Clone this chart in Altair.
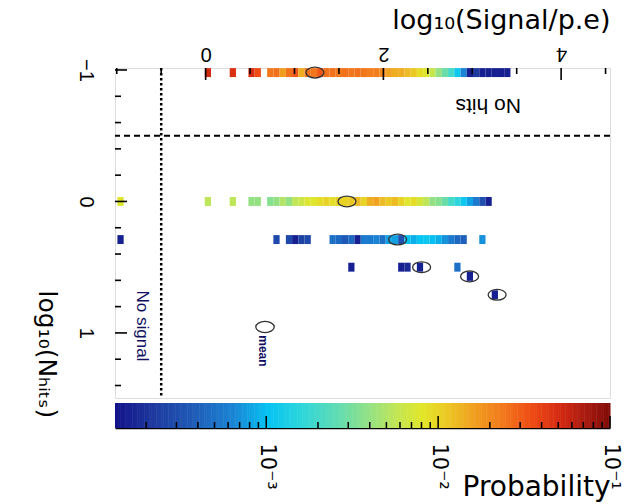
import altair as alt
import pandas as pd

# ---------------- values ----------------
X_DOMAIN = [-1.02, 4.55]          # log10(Signal/p.e)
Y_DOMAIN = [-1.015, 1.495]        # log10(N_hits)

BIN_START = -0.01                 # lower edge of signal bin 0
BIN_WIDTH = 0.0702                # signal bin width
ROW_HALF = 0.034                  # half height of a row of cells

# y position of each row (the "no hits" row sits at -1)
ROW_Y = [-0.98, 0.0, 0.29, 0.50, 0.57, 0.71]

# signal-bin indices of the filled cells in each row
ROW_BINS = [
    [0, 4, 7, 8] + list(range(10, 49)),
    [-14, 0, 4, 7, 8] + list(range(10, 46)),
    [-14, 11, 13, 14, 15, 16] + list(range(20, 42)) + [44],
    [23, 31, 32, 34, 40],
    [42],
    [46],
]
# log10(probability) of those cells
ROW_LOGP = [
    [-1.28, -1.32, -1.30, -1.45,
     -1.62, -1.60, -1.78, -1.60, -1.50, -1.85, -1.60, -1.62, -1.50, -1.60,
     -1.60, -1.62, -1.60, -1.62, -1.60, -1.62, -1.65, -1.65, -1.68,
     -1.80, -1.85, -1.85, -1.90, -1.95, -2.05, -2.10, -2.22, -2.40, -2.55,
     -2.70, -2.95, -3.20, -3.80, -3.65, -3.80, -3.80, -3.80, -3.80, -3.80],
    [-2.10, -2.25, -2.25, -2.40, -2.40,
     -2.45, -2.40, -2.30, -2.40, -2.25, -2.20, -2.12, -2.10, -2.05, -2.00,
     -2.05, -2.00, -2.00, -1.95, -1.90, -2.00, -1.85, -1.80, -1.90, -1.95,
     -1.90, -2.00, -2.10, -2.05, -2.15, -2.25, -2.40, -2.45, -2.55, -2.70,
     -2.80, -2.95, -3.10, -3.25, -3.50, -3.80],
    [-3.80, -3.55, -3.55, -3.80, -3.60, -3.55,
     -3.30, -3.35, -3.45, -3.35, -3.80, -3.25, -3.25, -3.20, -3.30, -3.10,
     -3.10, -3.50, -3.00, -3.05, -2.98, -2.95, -3.00, -3.05, -3.15, -3.25,
     -3.35, -3.40,
     -3.15],
    [-3.80, -3.80, -3.75, -3.80, -3.30],
    [-3.80],
    [-3.80],
]
# mean signal of each row
MEAN_SIGNAL = [1.23, 1.59, 2.16, 2.43, 2.97, 3.28]

NO_SIGNAL_X = -0.5
NO_HITS_Y = -0.5

X_MAJOR = [0, 2, 4]
X_MINOR = [-1, -0.5, 0.5, 1, 1.5, 2.5, 3, 3.5, 4.5]
Y_MAJOR = [-1, 0, 1]
Y_MINOR = [-0.8, -0.6, -0.4, -0.2, 0.2, 0.4, 0.6, 0.8, 1.2, 1.4]

# colour bar (log10 probability stops and colours)
CBAR_LOGP = [-3.88, -3.65, -3.42, -3.19, -2.99, -2.79, -2.58, -2.38, -2.24,
             -2.09, -1.95, -1.81, -1.63, -1.46, -1.29, -1.14, -1.0]
CBAR_COLORS = ["#12128a", "#1e3a9f", "#1f5cb8", "#1a85d4", "#05c3f3",
               "#2ed6da", "#62dcb0", "#9ae27e", "#c2e655", "#e2e628",
               "#ecc824", "#f0a420", "#f27a1c", "#ef4c14", "#d42a12",
               "#a81a10", "#800c08"]
CBAR_MAJOR = [1e-3, 1e-2, 1e-1]
CBAR_MINOR = [2e-4, 3e-4, 4e-4, 5e-4, 6e-4, 7e-4, 8e-4, 9e-4,
              2e-3, 3e-3, 4e-3, 5e-3, 6e-3, 7e-3, 8e-3, 9e-3,
              2e-2, 3e-2, 4e-2, 5e-2, 6e-2, 7e-2, 8e-2, 9e-2]
CBAR_LABELS = ["10⁻³", "10⁻²", "10⁻¹"]

# annotation positions (data coordinates)
NO_HITS_POS = (3.18, -0.73)
NO_SIGNAL_POS = (-0.716, 0.947)
MEAN_KEY_POS = (0.668, 0.955)
MEAN_TXT_POS = (0.645, 1.137)

# ---------------- tables ----------------
cell_rows = []
for yv, bins, lps in zip(ROW_Y, ROW_BINS, ROW_LOGP):
    for b, lp in zip(bins, lps):
        lo = BIN_START + b * BIN_WIDTH
        cell_rows.append(dict(lo=lo, hi=lo + BIN_WIDTH,
                              ylo=yv - ROW_HALF, yhi=yv + ROW_HALF, p=10 ** lp))
cells_df = pd.DataFrame(cell_rows)
means_df = pd.DataFrame({"lo": MEAN_SIGNAL, "ylo": ROW_Y})

# ---------------- scales / axes ----------------
W, H = 495, 330
XS = alt.Scale(domain=X_DOMAIN, nice=False, zero=False)
YS = alt.Scale(domain=Y_DOMAIN, nice=False, zero=False, reverse=True)
CS = alt.Scale(type="log", domain=[10 ** v for v in CBAR_LOGP],
               range=CBAR_COLORS, interpolate="rgb")
PS = alt.Scale(type="log", domain=[10 ** CBAR_LOGP[0], 10 ** CBAR_LOGP[-1]],
               nice=False)

X_AXIS = alt.Axis(orient="top", values=X_MAJOR, format=".0f", ticks=False,
                  tickSize=0, domain=False, grid=False, labelAngle=180,
                  labelAlign="center", labelBaseline="top", labelPadding=5,
                  labelFontSize=20, labelFont="Liberation Sans",
                  labelColor="black", labelFlush=False, labelOverlap=False,
                  title="log₁₀(Signal/p.e)", titleX=W, titleY=-40,
                  titleAlign="right", titleBaseline="alphabetic", titleAngle=0,
                  titleFontSize=27, titleFont="DejaVu Sans",
                  titleFontWeight="normal", titleColor="black")
Y_AXIS = alt.Axis(orient="left", values=Y_MAJOR, format=".0f", ticks=False,
                  tickSize=0, domain=False, grid=False, labelAngle=90,
                  labelAlign="center", labelBaseline="top", labelPadding=20,
                  labelFontSize=20, labelFont="Liberation Sans",
                  labelColor="black", labelFlush=False, labelOverlap=False,
                  title="log₁₀(Nₕᵢₜₛ)", titleX=-77, titleY=222,
                  titleAngle=90, titleAlign="left", titleBaseline="alphabetic",
                  titleFontSize=25, titleFont="DejaVu Sans",
                  titleFontWeight="normal", titleColor="black")
label_expr = ("datum.value < 0.005 ? '%s' : datum.value < 0.05 ? '%s' : '%s'"
              % tuple(CBAR_LABELS))
CB_AXIS = alt.Axis(orient="bottom", offset=30, values=CBAR_MAJOR,
                   labelExpr=label_expr, ticks=False, tickSize=0, domain=True,
                   domainColor="black", domainWidth=1.5, grid=False,
                   labelAngle=90, labelAlign="left", labelBaseline="middle",
                   labelPadding=15, labelFontSize=21, labelFont="DejaVu Sans",
                   labelColor="black", labelFlush=False, labelOverlap=False,
                   title="Probability", titleX=W, titleY=67,
                   titleAlign="right", titleBaseline="alphabetic",
                   titleAngle=0, titleFontSize=28, titleFont="DejaVu Sans",
                   titleFontWeight="normal", titleColor="black")


def X(field):
    return alt.X(field, type="quantitative", scale=XS, axis=X_AXIS)


def Y(field):
    return alt.Y(field, type="quantitative", scale=YS, axis=Y_AXIS)


def P(field):
    return alt.X(field, type="quantitative", scale=PS, axis=CB_AXIS)


ELLIPSE = "M -1 0 A 1 0.6 0 1 1 1 0 A 1 0.6 0 1 1 -1 0 Z"

# ---------------- main panel ----------------
cells = alt.Chart(cells_df).mark_rect().encode(
    x=X("lo"), x2="hi",
    y=Y("ylo"), y2="yhi",
    color=alt.Color("p:Q", scale=CS, legend=None),
)

no_signal = alt.Chart(pd.DataFrame({"lo": [NO_SIGNAL_X]})).mark_rule(
    color="black", strokeWidth=2.5, strokeDash=[2.5, 2.5]
).encode(x=X("lo"))

no_hits = alt.Chart(pd.DataFrame({"ylo": [NO_HITS_Y]})).mark_rule(
    color="black", strokeWidth=2, strokeDash=[6, 4]
).encode(y=Y("ylo"))

means = alt.Chart(means_df).mark_point(
    shape=ELLIPSE, size=324, filled=False, color="#333333",
    strokeWidth=1.3, opacity=1
).encode(x=X("lo"), y=Y("ylo"))


def xticks(vals, length):
    return alt.Chart(pd.DataFrame({"lo": vals})).mark_rule(
        color="black", strokeWidth=1.6
    ).encode(x=X("lo"), y=alt.value(0), y2=alt.value(length))


def yticks(vals, length):
    return alt.Chart(pd.DataFrame({"ylo": vals})).mark_rule(
        color="black", strokeWidth=1.6
    ).encode(y=Y("ylo"), x=alt.value(0), x2=alt.value(length))


def label(pos, text, **kw):
    return alt.Chart(pd.DataFrame({"lo": [pos[0]], "ylo": [pos[1]],
                                   "t": [text]})).mark_text(**kw).encode(
        x=X("lo"), y=Y("ylo"), text="t:N")


no_hits_txt = label(NO_HITS_POS, "No hits", angle=180, align="center",
                    baseline="middle", fontSize=21, font="Liberation Sans",
                    color="black")
no_signal_txt = label(NO_SIGNAL_POS, "No signal", angle=90, align="center",
                      baseline="middle", fontSize=17, font="Liberation Sans",
                      color="#101060")
mean_txt = label(MEAN_TXT_POS, "mean", angle=90, align="center",
                 baseline="middle", fontSize=12, fontWeight="bold",
                 font="Liberation Sans", color="#101060")
mean_key = alt.Chart(pd.DataFrame({"lo": [MEAN_KEY_POS[0]],
                                   "ylo": [MEAN_KEY_POS[1]]})).mark_point(
    shape=ELLIPSE, size=340, filled=False, color="#333333",
    strokeWidth=1.3, opacity=1
).encode(x=X("lo"), y=Y("ylo"))

main = alt.layer(
    cells, no_signal, no_hits, means,
    xticks(X_MAJOR, 12), xticks(X_MINOR, 6),
    yticks(Y_MAJOR, 12), yticks(Y_MINOR, 6),
    no_hits_txt, no_signal_txt, mean_key, mean_txt,
)

# ---------------- colour bar ----------------
N_STRIPES = 288
step = (CBAR_LOGP[-1] - CBAR_LOGP[0]) / N_STRIPES
stripes = alt.Chart(alt.sequence(0, N_STRIPES, as_="i")).transform_calculate(
    plo=f"pow(10, {CBAR_LOGP[0]} + datum.i * {step})",
    phi=f"pow(10, {CBAR_LOGP[0]} + (datum.i + 1.3) * {step})",
    mid=f"pow(10, {CBAR_LOGP[0]} + (datum.i + 0.5) * {step})",
).mark_rect().encode(
    x=P("plo"), x2="phi",
    y=alt.value(H + 5), y2=alt.value(H + 30),
    color=alt.Color("mid:Q", scale=CS, legend=None),
)


def cticks(vals, length):
    return alt.Chart(pd.DataFrame({"plo": vals})).mark_rule(
        color="black", strokeWidth=1.5
    ).encode(x=P("plo"), y=alt.value(H + 30 - length), y2=alt.value(H + 30))


cbar = alt.layer(stripes, cticks(CBAR_MINOR, 6), cticks(CBAR_MAJOR, 12))

chart = alt.layer(main, cbar).resolve_scale(x="independent").properties(
    width=W, height=H,
    autosize=alt.AutoSizeParams(type="none"),
    padding={"left": 115, "top": 68, "right": 23, "bottom": 106},
    background="white",
).configure_view(stroke="black", strokeWidth=2.5).configure(
    font="Liberation Sans")

chart.save("out.html", embed_options={"renderer": "svg", "actions": False})
